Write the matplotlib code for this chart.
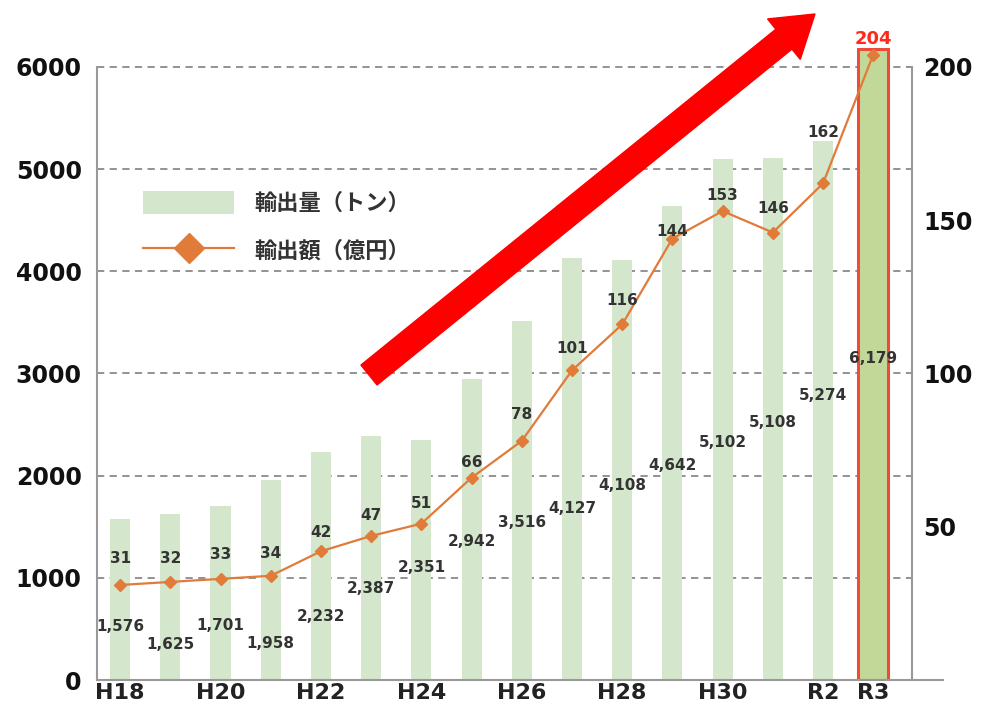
import matplotlib
matplotlib.use("Agg")
import matplotlib.pyplot as plt
from matplotlib.patches import FancyArrow

# ---- data ----
years = ["H18", "H19", "H20", "H21", "H22", "H23", "H24", "H25",
         "H26", "H27", "H28", "H29", "H30", "R1", "R2", "R3"]
tick_labels = ["H18", "", "H20", "", "H22", "", "H24", "",
               "H26", "", "H28", "", "H30", "", "R2", "R3"]
volume_t = [1576, 1625, 1701, 1958, 2232, 2387, 2351, 2942,
            3516, 4127, 4108, 4642, 5102, 5108, 5274, 6179]
value_oku = [31, 32, 33, 34, 42, 47, 51, 66,
             78, 101, 116, 144, 153, 146, 162, 204]

# label placement (layout only)
vol_label_y = [528, 352, 538, 362, 626, 900, 1106, 1351,
               1546, 1683, 1899, 2104, 2329, 2525, 2780, 3142]
val_label_y = [39.8, 39.8, 40.8, 41.4, 48.0, 53.8, 57.7, 70.8,
               86.5, 108.3, 123.7, 146.2, 158.2, 153.7, 178.5, 209.1]

W, H = 985, 714
fig = plt.figure(figsize=(W / 100, H / 100), dpi=100)

LEFT_PX, RIGHT_PX, BOTTOM_PX = 97, 943, 680
YMAX = 6600
PX_PER_UNIT = (680 - 67) / 6000.0
top_px = BOTTOM_PX - YMAX * PX_PER_UNIT
ax = fig.add_axes([LEFT_PX / W, 1 - BOTTOM_PX / H,
                   (RIGHT_PX - LEFT_PX) / W, (BOTTOM_PX - top_px) / H])

x = list(range(len(years)))
X0 = -0.46
X1 = 16.39
XR = 15.78
ax.set_xlim(X0, X1)
ax.set_ylim(0, YMAX)

grid_col = "#8a8a8a"
ax.hlines([1000, 2000, 3000, 4000, 5000, 6000], X0, XR, colors=grid_col,
          linestyles=(0, (4, 3)), linewidth=1.3, zorder=1)

bar_colors = ["#d4e7cc"] * (len(years) - 1) + ["#c2d898"]
widths = [0.4] * (len(years) - 1) + [0.6]
edges = ["none"] * (len(years) - 1) + ["#f04a38"]
lws = [0] * (len(years) - 1) + [2.2]
bars = ax.bar(x, volume_t, width=widths, color=bar_colors, edgecolor=edges,
              linewidth=lws, zorder=2, label="輸出量（トン）")

for xi, v, ly in zip(x, volume_t, vol_label_y):
    ax.text(xi, ly, f"{v:,}", ha="center", va="center", fontsize=11,
            fontweight="bold", color="#333333", zorder=5)

for s in ["top", "right"]:
    ax.spines[s].set_visible(False)
ax.spines["left"].set_bounds(0, 6000)
ax.spines["left"].set_color("#999999")
ax.spines["left"].set_linewidth(1.5)
ax.spines["bottom"].set_color("#999999")
ax.spines["bottom"].set_linewidth(1.5)

ax.set_yticks([0, 1000, 2000, 3000, 4000, 5000, 6000])
ax.set_yticklabels(["0", "1000", "2000", "3000", "4000", "5000", "6000"],
                   fontsize=17, fontweight="bold", color="#111111")
ax.tick_params(axis="y", length=0, pad=11)
ax.set_xticks(x)
ax.set_xticklabels(tick_labels, fontsize=16, fontweight="bold", color="#222222")
ax.tick_params(axis="x", length=0, pad=2)

ax2 = ax.twinx()
ax2.set_ylim(0, YMAX / 30.0)
ax2.set_xlim(X0, X1)
for s in ["top", "left", "bottom"]:
    ax2.spines[s].set_visible(False)
ax2.spines["right"].set_position(("axes", (XR - X0) / (X1 - X0)))
ax2.spines["right"].set_bounds(0, 200)
ax2.spines["right"].set_color("#999999")
ax2.spines["right"].set_linewidth(1.5)
ax2.set_yticks([50, 100, 150, 200])
ax2.set_yticklabels(["50", "100", "150", "200"], fontsize=17,
                    fontweight="bold", color="#111111")
ax2.tick_params(axis="y", length=0, pad=8)

line_col = "#e07b39"
line, = ax2.plot(x, value_oku, color=line_col, linewidth=1.6, marker="D",
                 markersize=6, zorder=4, label="輸出額（億円）")

for xi, v, ly in zip(x, value_oku, val_label_y):
    last = xi == len(x) - 1
    ax2.text(xi, ly, f"{v}", ha="center", va="center",
             fontsize=13 if last else 11, fontweight="bold",
             color="#ff2a1a" if last else "#333333", zorder=5)

leg = ax2.legend(handles=[bars, line], loc="upper left",
                 bbox_to_anchor=(143 / W, 1 - 191 / H),
                 bbox_transform=fig.transFigure, frameon=False,
                 prop={"family": ["Noto Sans CJK JP", "DejaVu Sans"],
                       "weight": "bold", "size": 16},
                 handlelength=4.1, handleheight=1.2, handletextpad=0.9,
                 labelspacing=1.05, borderpad=0, borderaxespad=0)
for t in leg.get_texts():
    t.set_color("#333333")
try:
    leg.legend_handles[1].set_markersize(15)
except Exception:
    pass

arrow = FancyArrow(3.69, 3.39, 4.46, 3.61, width=0.256, head_width=0.52,
                   head_length=0.40, length_includes_head=True,
                   color="#ff0000", transform=fig.dpi_scale_trans, zorder=10)
fig.add_artist(arrow)

fig.savefig("out.png", dpi=100, facecolor="white")
